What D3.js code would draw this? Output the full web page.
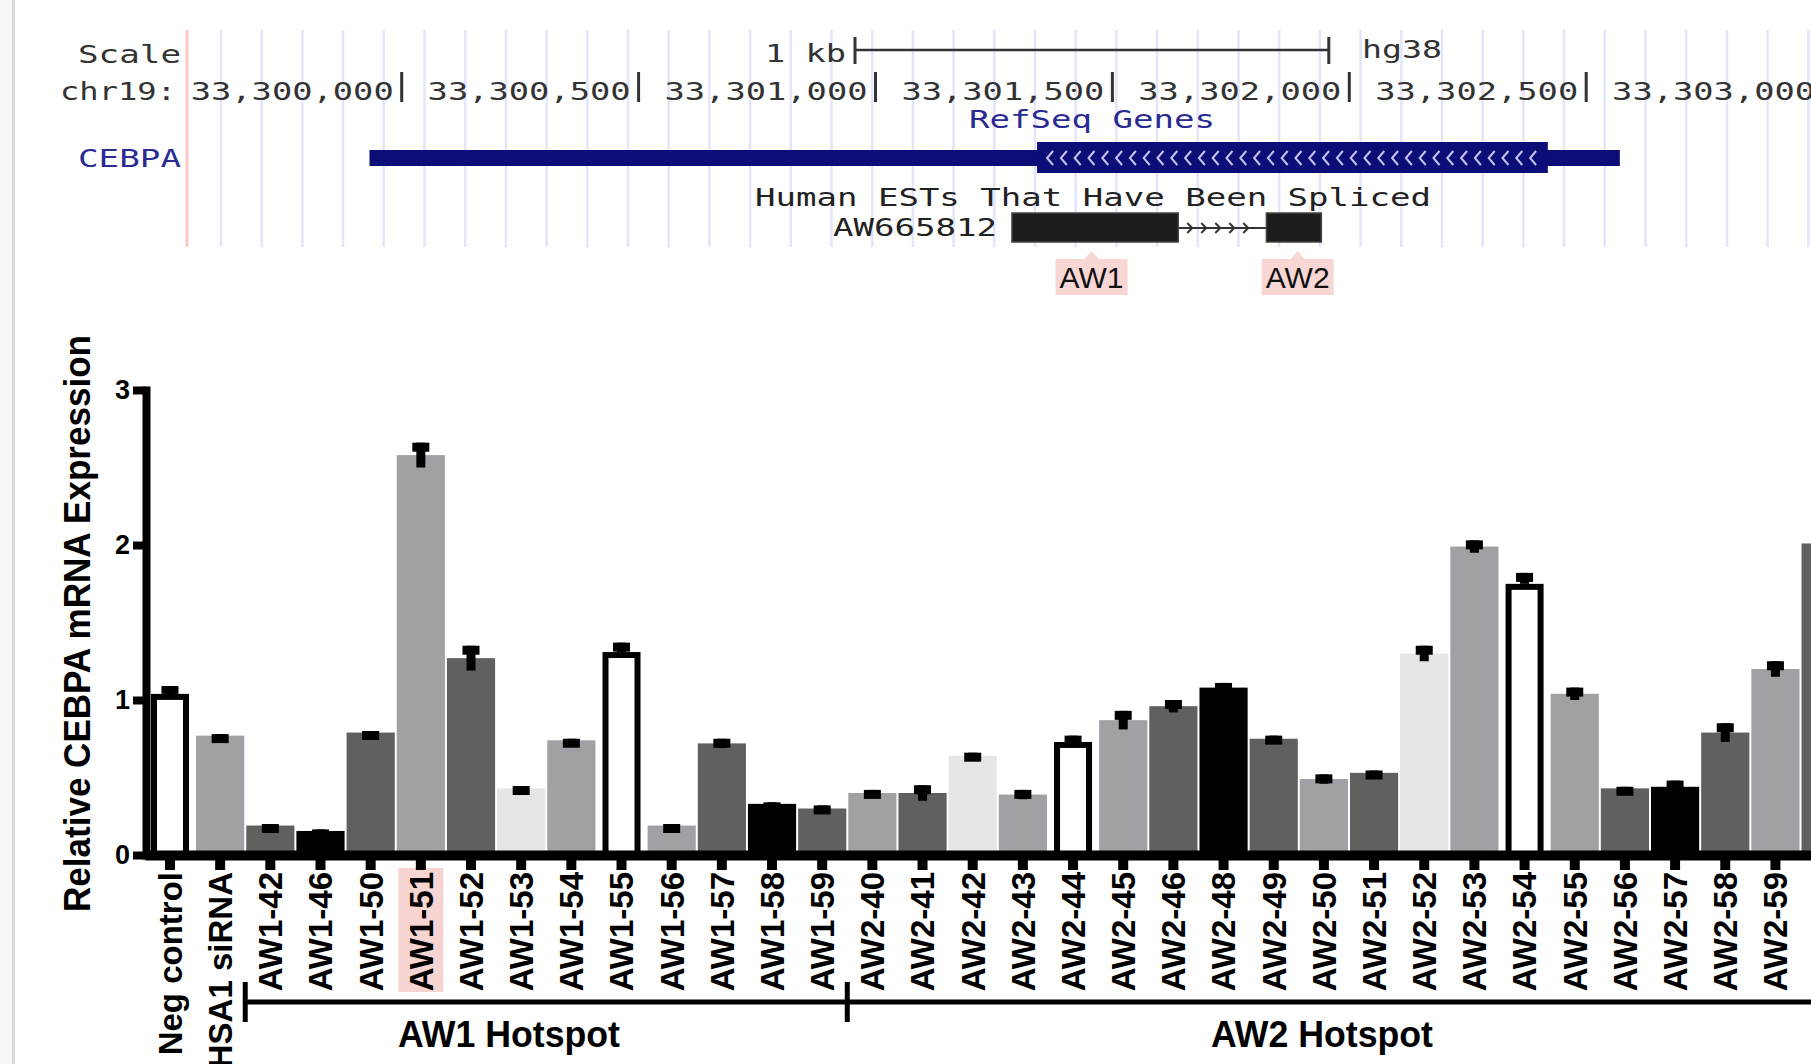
<!DOCTYPE html>
<html><head><meta charset="utf-8">
<script src="https://cdn.jsdelivr.net/npm/d3@7"></script>
<style>
html,body{margin:0;padding:0;background:#fff;overflow:hidden;}
svg{display:block;}
</style></head>
<body>
<svg id="chart" width="1811" height="1064"></svg>
<script>
// ---------------- data ----------------
const categories = ["Neg control","HSA1 siRNA","AW1-42","AW1-46","AW1-50","AW1-51","AW1-52","AW1-53","AW1-54","AW1-55","AW1-56","AW1-57","AW1-58","AW1-59","AW2-40","AW2-41","AW2-42","AW2-43","AW2-44","AW2-45","AW2-46","AW2-48","AW2-49","AW2-50","AW2-51","AW2-52","AW2-53","AW2-54","AW2-55","AW2-56","AW2-57","AW2-58","AW2-59",""];
const values = [1.02,0.77,0.19,0.155,0.79,2.58,1.27,0.43,0.74,1.29,0.19,0.72,0.33,0.30,0.40,0.40,0.64,0.39,0.71,0.87,0.96,1.08,0.75,0.49,0.53,1.30,1.99,1.73,1.04,0.43,0.44,0.79,1.20,2.01];
const errors = [0.07,0.01,0.01,0.01,0.01,0.08,0.08,0.015,0.01,0.08,0.01,0.03,0.01,0.02,0.02,0.05,0.02,0.03,0.06,0.06,0.04,0.03,0.02,0.03,0.015,0.05,0.04,0.09,0.04,0.01,0.04,0.06,0.05,0.03];
const shades = ["open","mid","dark","black","dark","mid","dark","light","mid","open","mid","dark","black","dark","mid","dark","light","mid","open","mid","dark","black","dark","mid","dark","light","mid","open","mid","dark","black","dark","mid","dark"];
const shadeKeys = ["open","mid","dark","black","light"];
const yTicks = [0,1,2,3];
const yTitle = "Relative CEBPA mRNA Expression";
const highlighted = "AW1-51";
const hotspotNames = ["AW1 Hotspot","AW2 Hotspot"];
const hotspotStarts = ["AW1-42","AW2-40"];

// genome browser header data
const chromLabel = "chr19:";
const genomeTicks = [33300000,33300500,33301000,33301500,33302000,33302500,33303000];
const geneName = "CEBPA";
const geneSpan = [33299932,33302571];
const geneCds = [33301341,33302419];
const estName = "AW665812";
const estExons = [[33301288,33301639],[33301825,33301941]];
const calloutNames = ["AW1","AW2"];
const calloutPos = [33301456,33301891];

// ---------------- drawing ----------------
const W = 1811, H = 1064;
const svg = d3.select("#chart");
svg.append("rect").attr("width",W).attr("height",H).attr("fill","#fff");
svg.append("rect").attr("x",0).attr("y",0).attr("width",12).attr("height",H).attr("fill","#f7f7f7");
svg.append("line").attr("x1",13.5).attr("x2",13.5).attr("y1",0).attr("y2",H).attr("stroke","#dadada").attr("stroke-width",3);

// header
const gx = d3.scaleLinear().domain([33300000,33301000]).range([401.7,875.5]);
const hdr = svg.append("g");
hdr.selectAll("line.grid").data(d3.range(221, W, 40.7)).join("line")
  .attr("class","grid").attr("x1",d=>d).attr("x2",d=>d).attr("y1",30).attr("y2",247)
  .attr("stroke","#e4e4fb").attr("stroke-width",2.5);
hdr.append("line").attr("x1",187).attr("x2",187).attr("y1",30).attr("y2",247)
  .attr("stroke","#ffc6c6").attr("stroke-width",3);

const MONO = "'DejaVu Sans Mono','Liberation Mono',monospace";
function mono(txt, xStart, yBase, len, color){
  return hdr.append("text").attr("x",xStart).attr("y",yBase)
    .attr("font-family",MONO).attr("font-size",25).attr("font-weight","normal")
    .attr("fill",color).attr("textLength",len).attr("lengthAdjust","spacingAndGlyphs").text(txt);
}
mono("Scale", 78, 63, 103, "#333");
mono(chromLabel, 60, 100, 116, "#333");
genomeTicks.forEach(t=>{
  const xt = gx(t);
  mono(d3.format(",")(t), xt-8-203, 100, 203, "#333");
  hdr.append("line").attr("x1",xt).attr("x2",xt).attr("y1",72).attr("y2",102).attr("stroke","#333").attr("stroke-width",3);
});
// scale bar 1 kb
mono("1 kb", 765, 62, 81, "#333");
const sb0 = 855, sb1 = sb0 + (gx(33301000)-gx(33300000));
hdr.append("line").attr("x1",sb0).attr("x2",sb1).attr("y1",50).attr("y2",50).attr("stroke","#333").attr("stroke-width",2.5);
[sb0,sb1].forEach(v=>hdr.append("line").attr("x1",v).attr("x2",v).attr("y1",37).attr("y2",64).attr("stroke","#333").attr("stroke-width",3));
mono("hg38", 1362, 58, 80, "#333");
mono("RefSeq Genes", 969, 128, 246, "#2a2a92");
mono(geneName, 78, 167, 103, "#2a2a92");
// gene model
const NAVY = "#0d0d78";
hdr.append("rect").attr("x",gx(geneSpan[0])).attr("width",gx(geneSpan[1])-gx(geneSpan[0]))
  .attr("y",150).attr("height",16).attr("fill",NAVY);
hdr.append("rect").attr("x",gx(geneCds[0])).attr("width",gx(geneCds[1])-gx(geneCds[0]))
  .attr("y",142).attr("height",31).attr("fill",NAVY);
hdr.selectAll("path.chev").data(d3.range(gx(geneCds[0])+12, gx(geneCds[1])-6, 13.8)).join("path")
  .attr("class","chev").attr("d",d=>`M${d+4},${151}L${d-2},${158}L${d+4},${165}`)
  .attr("fill","none").attr("stroke","#c4c4ee").attr("stroke-width",2);
// EST
mono("Human ESTs That Have Been Spliced", 755, 206, 676, "#222");
mono(estName, 833, 236, 164, "#222");
const i0 = gx(estExons[0][1]), i1 = gx(estExons[1][0]);
hdr.append("line").attr("x1",i0).attr("x2",i1).attr("y1",228).attr("y2",228).attr("stroke","#333").attr("stroke-width",2);
hdr.selectAll("path.arr").data(d3.range(i0+12, i1-8, 14)).join("path")
  .attr("class","arr").attr("d",d=>`M${d-3},${223}L${d+2},${228}L${d-3},${233}`)
  .attr("fill","none").attr("stroke","#333").attr("stroke-width",2);
estExons.forEach(e=>{
  hdr.append("rect").attr("x",gx(e[0])).attr("width",gx(e[1])-gx(e[0])).attr("y",213).attr("height",29)
    .attr("fill","#1c1c1c").attr("stroke","#444").attr("stroke-width",1.5);
});
// callouts
calloutNames.forEach((n,i)=>{
  const px = gx(calloutPos[i]);
  hdr.append("path").attr("d",`M${px-7},259L${px},251L${px+7},259Z`).attr("fill","#f7d6d3");
  hdr.append("rect").attr("x",px-36).attr("y",259).attr("width",72).attr("height",36).attr("fill","#f7d6d3");
  hdr.append("text").attr("x",px).attr("y",288).attr("text-anchor","middle")
    .attr("font-family","'Liberation Sans',Arial,sans-serif").attr("font-size",30).attr("fill","#111").text(n);
});

// ---------------- bar chart ----------------
const FONT = "'Liberation Sans',Arial,Helvetica,sans-serif";
const step = 50.17, x0 = 144.9;
const x = d3.scaleBand().domain(categories).range([x0, x0 + categories.length*step])
  .paddingInner(0.04).paddingOuter(0.02);
const y = d3.scaleLinear().domain([0,3]).range([855,390]);
const color = d3.scaleOrdinal().domain(shadeKeys).range(["#ffffff","#a1a1a5","#606060","#000000","#e6e6e6"]);
const data = categories.map((c,i)=>({c, v:values[i], e:errors[i], s:shades[i]}));

// highlight behind label
svg.append("rect").attr("x", x(highlighted)+x.bandwidth()/2-22.5).attr("y",868)
  .attr("width",45).attr("height",124).attr("fill","#f6d4d1");

const plot = svg.append("g");
const OPEN_W = 32;
plot.selectAll("rect.bar").data(data).join("rect").attr("class","bar")
  .attr("x", d=> d.s==="open" ? x(d.c)+(x.bandwidth()-OPEN_W)/2 : x(d.c))
  .attr("width", d=> d.s==="open" ? OPEN_W : x.bandwidth())
  .attr("y", d=> y(d.v))
  .attr("height", d=> y(0)-y(d.v))
  .attr("fill", d=> color(d.s))
  .attr("stroke", d=> d.s==="open" ? "#000" : "none")
  .attr("stroke-width", 6);

const eg = plot.selectAll("g.err").data(data).join("g").attr("class","err");
// stem: open bars only show the upper half (lower half hidden behind the outline bar)
eg.append("rect")
  .attr("x", d=> x(d.c)+x.bandwidth()/2-4.5).attr("width",9)
  .attr("y", d=> y(d.v+d.e))
  .attr("height", d=> Math.max(0, (d.s==="open" ? y(d.v)-3 : y(d.v-d.e)) - y(d.v+d.e)))
  .attr("fill","#000");
eg.append("rect")
  .attr("x", d=> x(d.c)+x.bandwidth()/2-8.5).attr("width",17)
  .attr("y", d=> y(d.v+d.e))
  .attr("height", d=> d.s==="open" ? Math.max(4, Math.min(9, y(d.v)-3-y(d.v+d.e))) : 9)
  .attr("fill","#000");

// axes
const xa = svg.append("g").attr("transform",`translate(0,${y(0)})`)
  .call(d3.axisBottom(x).tickSize(15).tickSizeOuter(0).tickFormat(d=>d));
xa.select(".domain").attr("stroke","#000").attr("stroke-width",10);
xa.selectAll(".tick line").attr("stroke","#000").attr("stroke-width",10);
xa.selectAll(".tick text")
  .attr("transform","rotate(-90)").attr("x",-17).attr("y",0).attr("dy","0.36em")
  .attr("text-anchor","end").attr("font-family",FONT).attr("font-weight","bold")
  .attr("font-size",33).attr("fill","#000");

const ya = svg.append("g").attr("transform","translate(146,0)")
  .call(d3.axisLeft(y).tickValues(yTicks).tickSize(13).tickSizeOuter(0).tickPadding(3).tickFormat(d3.format("d")));
ya.select(".domain").attr("stroke","#000").attr("stroke-width",8).attr("stroke-linecap","square");
ya.selectAll(".tick line").attr("stroke","#000").attr("stroke-width",8);
ya.selectAll(".tick text").attr("font-family",FONT).attr("font-weight","bold")
  .attr("font-size",27).attr("fill","#000");

// y title
svg.append("text").attr("transform","translate(90,623.5) rotate(-90)")
  .attr("x",-288.5).attr("y",0)
  .attr("font-family",FONT).attr("font-weight","bold").attr("font-size",37)
  .attr("textLength",577).attr("lengthAdjust","spacingAndGlyphs").text(yTitle);

// hotspot brackets
const bY = 1002;
const edges = hotspotStarts.map(c=> x(c) - x.step()*x.paddingInner()/2);
svg.append("line").attr("x1",edges[0]).attr("x2",W).attr("y1",bY).attr("y2",bY)
  .attr("stroke","#000").attr("stroke-width",5);
edges.forEach(e=> svg.append("line").attr("x1",e).attr("x2",e).attr("y1",982).attr("y2",1022)
  .attr("stroke","#000").attr("stroke-width",5));
const labelCenters = [509, 1322];
hotspotNames.forEach((n,i)=>{
  svg.append("text").attr("x",labelCenters[i]-111).attr("y",1047)
    .attr("font-family",FONT).attr("font-weight","bold").attr("font-size",36)
    .attr("textLength",222).attr("lengthAdjust","spacingAndGlyphs").text(n);
});
</script>
</body></html>
